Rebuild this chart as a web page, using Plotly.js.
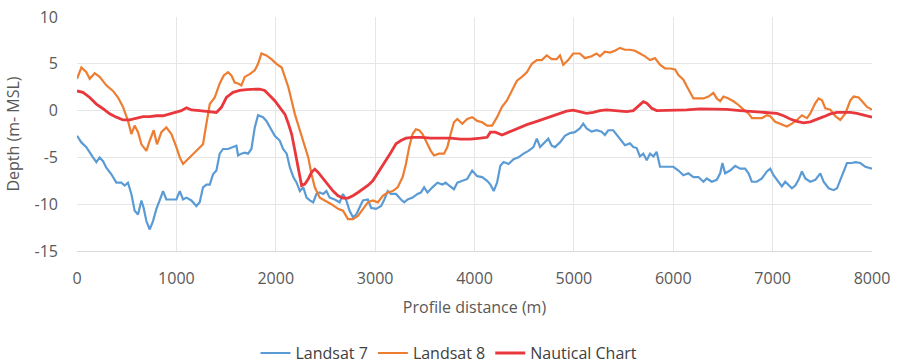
<!DOCTYPE html>
<html>
<head>
<meta charset="utf-8">
<script src="https://cdn.plot.ly/plotly-3.0.1.min.js"></script>
<style>html,body{margin:0;padding:0;background:#fff;}#chart{width:898px;height:364px;}</style>
</head>
<body>
<div id="chart"></div>
<script>
// Landsat 7 (blue)
const l7X = [0,44,94,128,161,195,228,262,295,346,396,446,480,513,547,580,614,648,671,698,732,765,799,832,866,899,950,1000,1034,1067,1101,1151,1201,1235,1268,1302,1336,1369,1403,1436,1470,1520,1570,1604,1621,1654,1688,1721,1755,1789,1822,1872,1906,1956,1990,2040,2074,2110,2143,2177,2210,2243,2277,2310,2343,2377,2410,2443,2477,2510,2543,2593,2643,2677,2710,2743,2777,2810,2843,2877,2927,2960,3010,3060,3093,3127,3160,3210,3260,3293,3327,3377,3427,3460,3493,3527,3577,3627,3677,3710,3743,3793,3827,3877,3927,3977,4027,4077,4127,4160,4193,4227,4260,4293,4343,4393,4443,4493,4543,4593,4627,4660,4710,4743,4777,4810,4860,4910,4960,5010,5060,5094,5128,5178,5228,5279,5312,5346,5396,5447,5480,5514,5564,5598,5632,5665,5699,5733,5766,5800,5833,5867,5934,6001,6052,6102,6152,6203,6253,6304,6337,6388,6438,6472,6495,6522,6572,6623,6673,6723,6757,6791,6841,6892,6942,6976,7009,7060,7093,7127,7161,7194,7228,7261,7295,7329,7379,7430,7480,7513,7564,7614,7648,7681,7715,7748,7799,7832,7883,7933,8000];
const l7Y = [-2.7,-3.4,-3.9,-4.5,-5.0,-5.5,-5.0,-5.4,-6.1,-6.8,-7.7,-7.7,-8.0,-7.7,-8.9,-10.7,-11.1,-9.6,-10.4,-11.8,-12.7,-11.8,-10.5,-9.6,-8.6,-9.5,-9.5,-9.5,-8.6,-9.5,-9.3,-9.6,-10.2,-9.8,-8.2,-7.9,-7.9,-6.8,-6.4,-4.6,-4.1,-4.1,-3.9,-3.75,-4.8,-4.6,-4.5,-4.6,-4.1,-1.8,-0.5,-0.7,-1.1,-2.0,-2.7,-3.2,-4.1,-4.6,-6.1,-7.1,-7.7,-8.6,-8.2,-9.3,-9.6,-9.8,-8.9,-8.75,-8.9,-8.6,-9.3,-9.5,-9.8,-8.9,-9.6,-10.7,-11.4,-11.1,-10.4,-9.6,-9.5,-10.4,-10.5,-10.2,-9.5,-8.6,-8.9,-8.9,-9.5,-9.8,-9.5,-9.3,-8.9,-8.75,-8.2,-8.75,-8.2,-7.7,-7.9,-7.7,-8.0,-8.4,-7.7,-7.5,-7.3,-6.4,-7.0,-7.1,-7.5,-7.9,-8.6,-7.7,-5.9,-5.5,-5.7,-5.2,-5.0,-4.6,-4.3,-3.9,-3.0,-3.9,-3.4,-3.0,-3.75,-3.9,-3.4,-2.7,-2.4,-2.3,-1.9,-1.4,-1.9,-2.25,-2.1,-2.25,-2.6,-2.1,-2.1,-2.8,-3.3,-3.7,-3.5,-3.9,-4.0,-4.9,-4.6,-5.3,-4.6,-4.9,-4.4,-6.0,-6.0,-6.0,-6.4,-6.9,-6.7,-7.1,-7.1,-7.6,-7.25,-7.6,-7.4,-6.7,-5.6,-6.7,-6.4,-5.9,-6.2,-6.2,-6.7,-7.6,-7.6,-7.25,-6.5,-6.2,-6.9,-7.6,-8.1,-7.6,-8.0,-8.3,-8.0,-7.4,-6.5,-7.25,-7.6,-7.4,-6.7,-7.6,-8.3,-8.5,-8.3,-7.4,-6.4,-5.6,-5.6,-5.5,-5.6,-6.0,-6.2];

// Landsat 8 (orange)
const l8X = [0,44,94,128,178,228,295,362,413,463,513,547,580,614,648,698,732,772,805,849,899,950,1000,1034,1067,1117,1168,1218,1268,1302,1336,1386,1436,1477,1520,1554,1587,1621,1654,1688,1738,1789,1822,1856,1906,1956,2007,2060,2127,2193,2243,2293,2327,2360,2393,2443,2493,2560,2627,2677,2727,2777,2827,2877,2927,2977,3027,3077,3127,3177,3227,3277,3310,3343,3377,3410,3443,3477,3527,3560,3593,3643,3693,3727,3760,3793,3827,3877,3927,3977,4027,4077,4127,4177,4227,4277,4327,4377,4427,4477,4527,4577,4627,4677,4727,4777,4827,4860,4893,4943,4993,5060,5111,5178,5228,5262,5312,5363,5413,5464,5514,5564,5615,5665,5716,5766,5816,5867,5917,5968,6018,6052,6102,6136,6169,6203,6253,6304,6354,6404,6438,6472,6505,6556,6606,6657,6707,6757,6791,6841,6892,6942,6976,7026,7077,7144,7194,7245,7295,7346,7379,7430,7463,7497,7530,7581,7631,7681,7732,7782,7816,7866,7900,7950,8000];
const l8Y = [3.4,4.6,4.1,3.4,4.0,3.6,2.7,2.1,1.4,0.4,-1.1,-2.5,-1.6,-2.3,-3.6,-4.3,-3.2,-2.1,-3.6,-2.3,-1.8,-2.5,-3.9,-5.0,-5.7,-5.2,-4.6,-4.1,-3.6,-1.4,0.7,1.4,2.9,3.75,4.1,3.75,3.0,2.9,2.7,3.6,3.9,4.3,5.0,6.1,5.9,5.5,5.0,4.6,2.5,-0.4,-2.1,-3.6,-5.0,-6.8,-8.2,-9.3,-9.6,-10.0,-10.5,-10.7,-11.6,-11.6,-11.25,-10.5,-9.8,-9.6,-9.8,-9.1,-8.75,-8.6,-8.2,-7.1,-5.7,-3.9,-2.5,-2.0,-2.1,-2.5,-3.6,-4.3,-4.8,-4.6,-4.6,-3.9,-2.5,-1.25,-0.9,-1.4,-0.9,-0.7,-1.1,-1.25,-1.6,-1.6,-0.7,0.4,1.1,2.1,3.2,3.6,4.1,5.0,5.4,5.4,5.9,5.5,5.5,5.9,4.9,5.4,6.1,6.1,5.6,5.8,6.1,5.8,6.3,6.2,6.4,6.7,6.5,6.5,6.4,6.1,5.8,5.4,5.6,4.9,4.5,4.5,4.4,3.8,3.3,2.6,1.9,1.3,1.3,1.3,1.5,1.9,1.3,1.0,1.5,1.3,1.0,0.6,0.1,-0.3,-0.8,-0.8,-0.8,-0.5,-0.6,-1.2,-1.4,-1.7,-1.4,-1.0,-0.5,-0.8,-0.3,0.8,1.3,1.1,0.25,0.1,-0.6,-1.0,-0.3,1.1,1.5,1.4,1.0,0.4,0.1];

// Nautical Chart (red)
const ncX = [0,60,128,195,262,329,396,463,530,597,664,732,799,866,933,1000,1050,1101,1151,1235,1336,1403,1453,1503,1570,1638,1705,1772,1839,1889,1940,1990,2040,2093,2127,2160,2193,2227,2260,2293,2327,2360,2393,2427,2477,2527,2577,2627,2677,2727,2777,2827,2877,2927,2977,3027,3060,3110,3160,3210,3260,3310,3377,3460,3560,3660,3760,3860,3960,4060,4127,4160,4210,4277,4343,4427,4527,4627,4727,4827,4926,4993,5060,5128,5195,5262,5329,5396,5464,5531,5598,5648,5699,5733,5783,5833,5934,6035,6136,6270,6404,6539,6673,6808,6942,7043,7110,7177,7245,7312,7379,7446,7514,7581,7648,7715,7782,7849,7916,8000];
const ncY = [2.1,1.95,1.4,0.7,0.2,-0.35,-0.7,-1.0,-1.0,-0.8,-0.65,-0.65,-0.55,-0.55,-0.35,-0.2,0.0,0.3,0.07,0.0,-0.1,-0.2,0.35,1.4,1.95,2.15,2.25,2.3,2.3,2.15,1.6,1.05,0.35,-0.4,-1.4,-2.5,-4.3,-6.4,-8.0,-7.85,-7.3,-6.6,-6.25,-6.6,-7.3,-8.0,-8.6,-9.1,-9.35,-9.35,-9.1,-8.75,-8.4,-8.0,-7.5,-6.7,-6.1,-5.35,-4.45,-3.55,-3.2,-2.95,-2.85,-2.85,-2.95,-2.95,-2.95,-3.05,-3.05,-2.95,-2.85,-2.3,-2.3,-2.6,-2.3,-1.95,-1.5,-1.15,-0.8,-0.45,-0.05,0.05,-0.1,-0.3,-0.2,0.0,0.07,0.0,-0.1,-0.1,0.0,0.5,0.95,0.8,0.25,0.0,0.0,0.0,0.07,0.18,0.18,0.14,0.0,-0.1,-0.18,-0.3,-0.55,-0.9,-1.15,-1.3,-1.2,-0.95,-0.65,-0.35,-0.2,-0.2,-0.2,-0.3,-0.45,-0.7];

const seriesNames = ['Landsat 7','Landsat 8','Nautical Chart'];
const xTicks = [0,1000,2000,3000,4000,5000,6000,7000,8000];
const yTicks = [-15,-10,-5,0,5,10];

const font = "'Open Sans', 'Liberation Sans', sans-serif";
const data = [
  {x: l7X, y: l7Y, name: seriesNames[0], type: 'scatter', mode: 'lines', line: {color: '#5b9bd5', width: 2.2}},
  {x: l8X, y: l8Y, name: seriesNames[1], type: 'scatter', mode: 'lines', line: {color: '#ed7d31', width: 2.2}},
  {x: ncX, y: ncY, name: seriesNames[2], type: 'scatter', mode: 'lines', line: {color: '#e8383d', width: 2.8}}
];
const layout = {
  width: 898, height: 364,
  margin: {l: 77, r: 26, t: 17, b: 113},
  paper_bgcolor: '#fff', plot_bgcolor: '#fff',
  font: {family: font, color: '#595959', size: 16},
  showlegend: true,
  legend: {orientation: 'h', xref: 'container', x: 0.5, xanchor: 'center', yref: 'container', y: 0.03, yanchor: 'middle', font: {size: 16, color: '#404040'}, itemwidth: 30},
  xaxis: {
    range: [0, 8000], tickvals: xTicks, ticktext: xTicks.map(String),
    showgrid: true, gridcolor: '#e6e6e6', gridwidth: 1,
    zeroline: false, showline: true, linecolor: '#d9d9d9', mirror: false,
    ticks: '', ticklabelstandoff: 13, tickfont: {size: 16, color: '#595959'},
    title: {text: 'Profile distance (m)', font: {size: 16, color: '#595959'}, standoff: 13}
  },
  yaxis: {
    range: [-15, 10], tickvals: yTicks, ticktext: yTicks.map(String),
    showgrid: true, gridcolor: '#e6e6e6', gridwidth: 1,
    zeroline: false, showline: false, ticks: '', ticklabelstandoff: 18,
    tickfont: {size: 16, color: '#595959'},
    title: {text: 'Depth (m- MSL)', font: {size: 16, color: '#595959'}, standoff: 10}
  }
};
Plotly.newPlot('chart', data, layout, {displayModeBar: false, staticPlot: true});
</script>
</body>
</html>
